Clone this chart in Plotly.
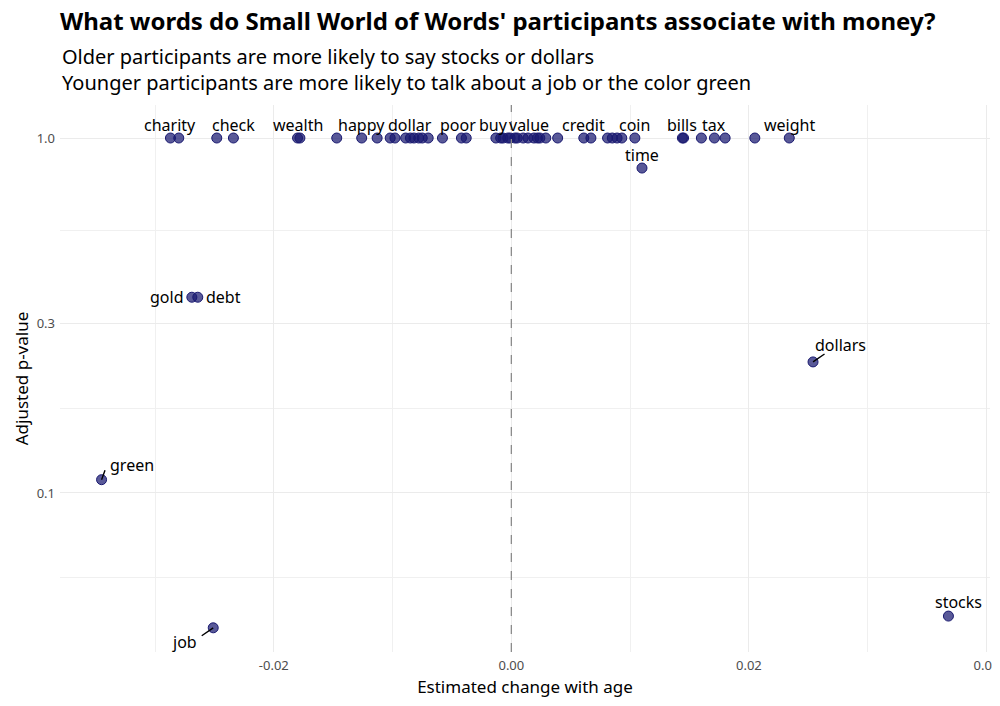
import math
import plotly.graph_objects as go

# estimated change with age (x) and adjusted p-value (y)
estimate = [
    -0.0287, -0.0280, -0.0248, -0.0234, -0.0180, -0.0178, -0.0147, -0.0126,
    -0.0113, -0.0102, -0.0098, -0.0089, -0.0085, -0.0082, -0.0078, -0.0075,
    -0.0070, -0.0058, -0.0042, -0.0038, -0.0013, -0.0009, -0.0007, -0.0003,
    -0.0001, 0.0003, 0.0005, 0.0010, 0.0014, 0.0019, 0.0022, 0.0024,
    0.0029, 0.0039, 0.0061, 0.0067, 0.0081, 0.0085, 0.0089, 0.0093,
    0.0104, 0.0144, 0.0145, 0.0160, 0.0171, 0.0180, 0.0205, 0.0234,
    0.0110, -0.0269, -0.0264, 0.0254, -0.0345, 0.0368, -0.0251,
]
p_value = [1.0] * 48 + [0.823, 0.356, 0.356, 0.234, 0.109, 0.045, 0.0417]
word = [
    "charity", None, None, "check", "wealth", None, None, "happy",
    None, None, None, None, "dollar", None, None, None,
    None, None, "poor", None, "buy", None, None, None,
    None, None, None, "value", None, None, None, None,
    None, None, "credit", None, None, None, None, None,
    "coin", "bills", None, None, "tax", None, None, "weight",
    "time", "gold", "debt", "dollars", "green", "stocks", "job",
]

# label placement (pixels, relative to the point): xanchor, label shift, segment end
label_offsets = {
    "gold": ("right", (-6, 0), None),
    "debt": ("left", (6, 0), None),
    "poor": ("center", (-3, 13), None),
    "buy": ("center", (-2, 13), None),
    "value": ("center", (6, 13), None),
    "stocks": ("center", (10, 14), None),
    "green": ("left", (6, 15), (4, -11)),
    "dollars": ("left", (0, 17), (13, -9)),
    "job": ("right", (-14, -14), (-13, 9)),
}

FONT = "Noto Sans"
NAVY = "#191970"

fig = go.Figure()

fig.add_trace(go.Scatter(
    x=estimate, y=p_value, mode="markers",
    marker=dict(size=10, color="rgba(25,25,112,0.72)", line=dict(color=NAVY, width=1)),
    text=word, hoverinfo="x+y+text", showlegend=False,
))

fig.add_vline(x=0, line_dash="dash", line_color="#8c8c8c", line_width=1.3)

# word labels (annotation y on a log axis is given in log10 units)
for x, y, w in zip(estimate, p_value, word):
    if w is None:
        continue
    ly = math.log10(y)
    anchor, (xs, ys), seg = label_offsets.get(w, ("center", (0, 13), None))
    if seg is not None:
        fig.add_annotation(x=x, y=ly, text="", showarrow=True, arrowhead=0, arrowwidth=1.4,
                           arrowcolor="black", ax=seg[0], ay=seg[1], standoff=0)
    fig.add_annotation(x=x, y=ly, text=w, showarrow=False, xanchor=anchor,
                       xshift=xs, yshift=ys, font=dict(family=FONT, size=16, color="black"))

# subtitle
fig.add_annotation(xref="paper", yref="paper", x=0.0, y=1.0658, xanchor="left", yanchor="middle",
                   align="left",
                   text="Older participants are more likely to say stocks or dollars<br>"
                        "Younger participants are more likely to talk about a job or the color green",
                   showarrow=False, font=dict(family=FONT, size=20, color="black"))

fig.update_xaxes(
    range=[-0.038, 0.0403], tickvals=[-0.02, 0, 0.02, 0.04],
    ticktext=["-0.02", "0.00", "0.02", "0.04"], automargin=False, ticklabeloverflow="allow",
    showgrid=True, gridcolor="#ebebeb", gridwidth=1, zeroline=False, showline=False,
    minor=dict(tickmode="array", tickvals=[-0.03, -0.01, 0.01, 0.03], showgrid=True,
               gridcolor="#f0f0f0", gridwidth=1),
    tickfont=dict(family=FONT, size=13, color="#4d4d4d"), ticklabelstandoff=4,
    title=dict(text="Estimated change with age", font=dict(family=FONT, size=17, color="black"),
               standoff=10),
)
fig.update_yaxes(
    type="log", range=[-1.448, 0.093], tickvals=[0.1, 0.3, 1.0], ticktext=["0.1", "0.3", "1.0"],
    automargin=False,
    showgrid=True, gridcolor="#ebebeb", gridwidth=1, zeroline=False, showline=False,
    minor=dict(tickmode="array", tickvals=[10 ** -0.2614, 10 ** -0.7614, 10 ** -1.2386],
               showgrid=True, gridcolor="#f0f0f0", gridwidth=1),
    tickfont=dict(family=FONT, size=13, color="#4d4d4d"), ticklabelstandoff=4,
    title=dict(text="Adjusted p-value", font=dict(family=FONT, size=17, color="black"),
               standoff=3),
)

# the page draws the figure 8px in from the top-left corner; keep it inside the window
fig.update_layout(
    width=992, height=690,
    margin=dict(l=52, r=10, t=97, b=46),
    plot_bgcolor="white", paper_bgcolor="white",
    font=dict(family=FONT),
    title=dict(text="<b>What words do Small World of Words' participants associate with money?</b>",
               x=0, xref="paper", xanchor="left", y=0.9797, yref="container", yanchor="middle",
               font=dict(family=FONT, size=24, color="black")),
)

fig.write_html("out.html")
